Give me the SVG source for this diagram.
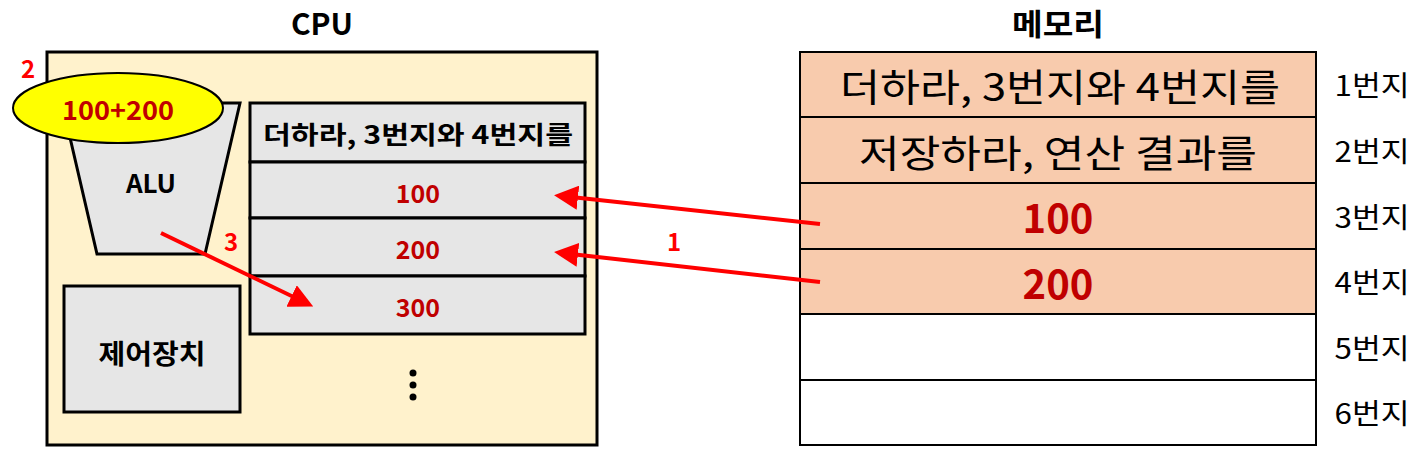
<svg xmlns="http://www.w3.org/2000/svg" width="1425" height="457" viewBox="0 0 1425 457">
<style>
text{font-family:"Noto Sans CJK KR","Open Sans",sans-serif;text-anchor:middle;dominant-baseline:central}
.b{font-weight:bold}
.red{fill:#FF0000;font-weight:bold;font-size:24px}
.dr{fill:#C00000;font-weight:bold}
.reg{fill:#E6E6E6;stroke:#000;stroke-width:3}
.mem{stroke:#000;stroke-width:2}
.arr{stroke:#FF0000;stroke-width:4;fill:none;marker-end:url(#ah)}
</style>
<defs>
<marker id="ah" markerWidth="6" markerHeight="6" refX="4" refY="3" orient="auto" markerUnits="strokeWidth">
<path d="M0,0 L6,3 L0,6 Z" fill="#FF0000"/>
</marker>
</defs>
<rect width="1425" height="457" fill="#fff"/>
<text x="322" y="22" class="b" font-size="30">CPU</text>
<text x="1058" y="22" class="b" font-size="30" textLength="92" lengthAdjust="spacingAndGlyphs">메모리</text>
<g id="cpu">
<rect x="47" y="52" width="550" height="393" fill="#FFF2CC" stroke="#000" stroke-width="3"/>
</g>
<g id="alu">
<polygon points="62,103 240,103 205,254 97,254" fill="#E6E6E6" stroke="#000" stroke-width="3"/>
<text x="151" y="181" class="b" font-size="26">ALU</text>
</g>
<g id="op">
<ellipse cx="118" cy="108" rx="105" ry="35" fill="#FFFF00" stroke="#000" stroke-width="2"/>
<text x="118" y="108" class="dr" font-size="26" textLength="112" lengthAdjust="spacingAndGlyphs">100+200</text>
</g>
<g id="ctrl">
<rect x="64" y="286" width="176" height="126" class="reg"/>
<text x="152" y="352" class="b" font-size="27" textLength="107" lengthAdjust="spacingAndGlyphs">제어장치</text>
</g>
<g id="registers">
<rect x="250" y="103" width="335" height="59" class="reg"/>
<text x="418" y="133" class="b" font-size="25" textLength="310" lengthAdjust="spacingAndGlyphs">더하라, 3번지와 4번지를</text>
<rect x="250" y="162" width="335" height="56" class="reg"/>
<text x="418" y="192" class="dr" font-size="25">100</text>
<rect x="250" y="218" width="335" height="58" class="reg"/>
<text x="418" y="248" class="dr" font-size="25">200</text>
<rect x="250" y="276" width="335" height="58" class="reg"/>
<text x="418" y="306" class="dr" font-size="25">300</text>
<circle cx="413" cy="373" r="3.5"/>
<circle cx="413" cy="385" r="3.5"/>
<circle cx="413" cy="397" r="3.5"/>
</g>
<g id="memory">
<rect x="800" y="52" width="516" height="65" fill="#F8CBAD" class="mem"/>
<text x="1060" y="84" font-size="38" textLength="440" lengthAdjust="spacingAndGlyphs">더하라, 3번지와 4번지를</text>
<rect x="800" y="117" width="516" height="66" fill="#F8CBAD" class="mem"/>
<text x="1058" y="150" font-size="38" textLength="398" lengthAdjust="spacingAndGlyphs">저장하라, 연산 결과를</text>
<rect x="800" y="183" width="516" height="66" fill="#F8CBAD" class="mem"/>
<text x="1058" y="216" class="dr" font-size="40">100</text>
<rect x="800" y="249" width="516" height="65" fill="#F8CBAD" class="mem"/>
<text x="1058" y="282" class="dr" font-size="40">200</text>
<rect x="800" y="314" width="516" height="66" fill="#FFFFFF" class="mem"/>
<rect x="800" y="380" width="516" height="65" fill="#FFFFFF" class="mem"/>
</g>
<g id="addresses">
<text x="1372" y="84" font-size="28" textLength="75" lengthAdjust="spacingAndGlyphs">1번지</text>
<text x="1372" y="150" font-size="28" textLength="75" lengthAdjust="spacingAndGlyphs">2번지</text>
<text x="1372" y="216" font-size="28" textLength="75" lengthAdjust="spacingAndGlyphs">3번지</text>
<text x="1372" y="281" font-size="28" textLength="75" lengthAdjust="spacingAndGlyphs">4번지</text>
<text x="1372" y="347" font-size="28" textLength="75" lengthAdjust="spacingAndGlyphs">5번지</text>
<text x="1372" y="412" font-size="28" textLength="75" lengthAdjust="spacingAndGlyphs">6번지</text>
</g>
<g id="connectors">
<line x1="820" y1="224" x2="562" y2="196" class="arr"/>
<line x1="820" y1="282" x2="562" y2="253" class="arr"/>
<line x1="161" y1="233" x2="306" y2="303" class="arr"/>
</g>
<g id="labels">
<text x="28" y="67" class="red">2</text>
<text x="231" y="240" class="red">3</text>
<text x="674" y="240" class="red">1</text>
</g>
</svg>
